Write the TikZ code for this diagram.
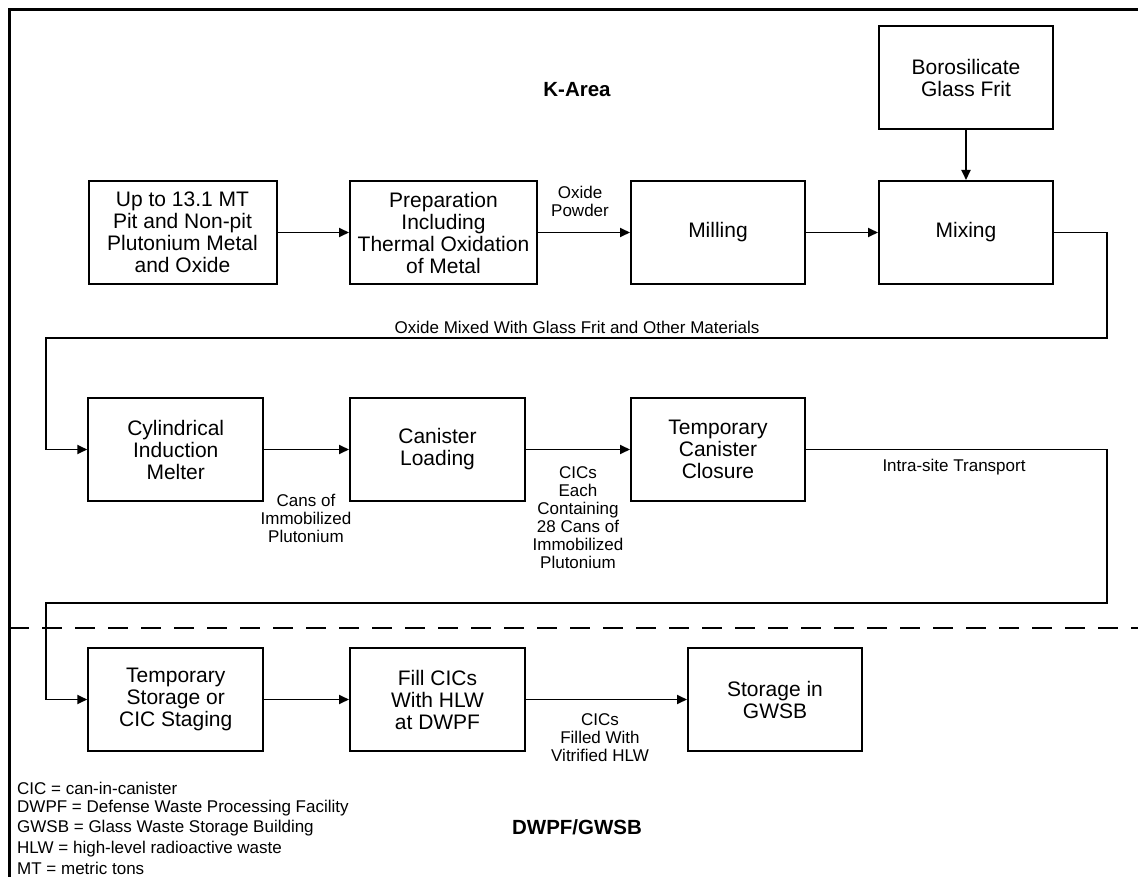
\documentclass[tikz,border=0pt]{standalone}
\usepackage{fontspec}
\setmainfont{Liberation Sans}
\usetikzlibrary{arrows.meta}

\begin{document}
\begin{tikzpicture}[x=1pt,y=-1pt,
		box/.style={draw,line width=2pt,minimum width=174pt,minimum height=103pt,inner sep=0pt,align=center,font=\fontsize{21}{22}\selectfont},
		note/.style={align=center,inner sep=0pt,font=\fontsize{17}{18}\selectfont},
		area/.style={inner sep=0pt,font=\fontsize{20.5}{24}\selectfont\bfseries},
		flow/.style={line width=1.8pt,-{Triangle[length=10pt,width=9pt]}},
		route/.style={line width=1.8pt}]
				\useasboundingbox (0,0) rectangle (1138,877);
				\clip (0,0) rectangle (1138,877);
				\draw[line width=3pt] (9,9.5) rectangle (1170,900);
				
				\node[area] (karea) at (577,90) {K-Area};
				\node[area] (dwpf) at (577,827) {DWPF/GWSB};
				
				%first row
				\node[box] (frit) at (966,77.5) {Borosilicate\\Glass Frit};
				\node[box,minimum width=188pt] (pu) at (182.5,232.5) {Up to 13.1 MT\\Pit and Non-pit\\Plutonium Metal\\and Oxide};
				\node[box,minimum width=187pt] (prep) at (443.5,232.5) {Preparation\\Including\\Thermal Oxidation\\of Metal};
				\node[box] (mill) at (718,232.5) {Milling};
				\node[box] (mix) at (966,232.5) {Mixing};
				
				%second row
				\node[box,minimum width=175pt] (melt) at (175.75,449.5) {Cylindrical\\Induction\\Melter};
				\node[box,minimum width=175pt] (load) at (437.5,449.5) {Canister\\Loading};
				\node[box] (close) at (718,449.5) {Temporary\\Canister\\Closure};
				
				%third row
				\node[box,minimum width=175pt] (stage) at (175.75,699.5) {Temporary\\Storage or\\CIC Staging};
				\node[box,minimum width=175pt] (fill) at (437.5,699.5) {Fill CICs\\With HLW\\at DWPF};
				\node[box] (gwsb) at (775,699.5) {Storage in\\GWSB};
				
				\coordinate (r1) at (1107,338);
				\coordinate (l1) at (46,338);
				\coordinate (r2) at (1107,603);
				\coordinate (l2) at (46,603);
				
				\draw[flow] (frit) -- (mix);
				\draw[flow] (pu) -- (prep);
				\draw[flow] (prep) -- (mill);
				\draw[flow] (mill) -- (mix);
				\draw[flow] (mix.east) -| (r1) -- (l1) |- (melt.west);
				\draw[flow] (melt) -- (load);
				\draw[flow] (load) -- (close);
				\draw[flow] (close.east) -| (r2) -- (l2) |- (stage.west);
				\draw[flow] (stage) -- (fill);
				\draw[flow] (fill) -- (gwsb);
				
				\node[note] (powder) at (580,201) {Oxide\\Powder};
				\node[note] (mixed) at (577,327) {Oxide Mixed With Glass Frit and Other Materials};
				\node[note] (cans) at (306,518) {Cans of\\Immobilized\\Plutonium};
				\node[note] (cics) at (578,517.5) {CICs\\Each\\Containing\\28 Cans of\\Immobilized\\Plutonium};
				\node[note] (trans) at (954,467) {Intra-site Transport};
				\node[note] (vitr) at (600,738) {CICs\\Filled With\\Vitrified HLW};
				
				%site boundary
				\draw[line width=2.6pt,dash pattern=on 20pt off 13pt] (9,628) -- (1138,628);
				
				%abbreviations
				\foreach \txt [count=\k] in {CIC = can-in-canister,DWPF = Defense Waste Processing Facility,GWSB = Glass Waste Storage Building,HLW = high-level radioactive waste,MT = metric tons}{
					\node[note,anchor=west] (abbr\k) at (17,{788+(\k-1)*20.2}) {\txt};
				}
				
			\end{tikzpicture}
\end{document}
